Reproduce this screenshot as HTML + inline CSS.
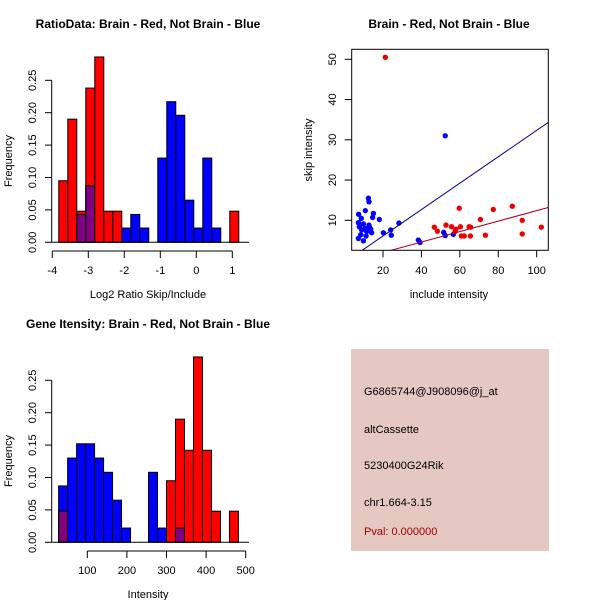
<!DOCTYPE html>
<html><head><meta charset="utf-8">
<style>
body{margin:0;background:#fff;}
svg{display:block;font-family:"Liberation Sans",sans-serif;}
</style></head>
<body>
<svg id="chart" width="600" height="600" viewBox="0 0 600 600"></svg>
<script>
// Ratio histogram data (breaks start -3.82, width 0.25)
const ratioBreakStart = -3.82;
const ratioBinWidth = 0.25;
const ratioRed = [0.095,0.19,0.048,0.238,0.286,0.048,0.048,0,0,0,0,0,0,0,0,0,0,0,0,0.048];
const ratioBlue = [0,0,0.043,0.087,0,0,0,0.022,0.043,0.022,0,0.13,0.217,0.196,0.065,0.022,0.13,0.022,0,0];
const ratioXTicks = [-4,-3,-2,-1,0,1];
const freqTicks = ["0.00","0.05","0.10","0.15","0.20","0.25"];
// Intensity histogram data
const intBreakStart = 27.6;
const intBinWidth = 22.7;
const intRed = [0.048,0,0,0,0,0,0,0,0,0,0,0,0.095,0.19,0.142,0.286,0.142,0.048,0,0.048];
const intBlue = [0.087,0.13,0.152,0.152,0.13,0.108,0.065,0.022,0,0,0.108,0.022,0,0.022,0,0,0,0,0,0];
const intXTicks = [100,200,300,400,500];
// Scatter data
const blueX = [12.4,12.7,10.8,7.3,8.7,15,14.6,18.1,7.2,9.8,12.7,13.6,7.7,8.9,11.5,14.1,8.4,11.2,7.2,9.8,12.9,10.6,20.2,24,24.3,28.3,38.4,39.3,51.6,52.4,56.6,52.4];
const blueY = [15.5,14.6,12.4,11.5,10.5,11.7,10.7,10.2,9.4,9.1,8.8,7.8,8.4,7.6,7.2,6.9,6.4,6.1,5.5,4.9,8.4,8.0,6.9,7.6,6.3,9.3,5.1,4.5,7.0,6.2,6.5,31.0];
const redX = [21.2,46.7,48.3,52.8,55.7,58,57.5,59.7,60.3,60.8,62.3,64.8,65.6,65.5,70.7,73.3,77.4,87.3,92.5,92.5,102.4];
const redY = [50.5,8.3,7.3,8.8,8.4,7.8,7.2,13.0,8.4,6.1,6.1,8.4,8.3,6.1,10.2,6.3,12.7,13.5,10,6.6,8.3];
const blueFit = [-0.45,0.328];
const redFit = [-0.6,0.130];
const scXTicks = [20,40,60,80,100];
const scYTicks = [10,20,30,40,50];

const NS="http://www.w3.org/2000/svg";
const svg=document.getElementById('chart');
function mk(tag,attrs,parent){const e=document.createElementNS(NS,tag);for(const k in attrs)e.setAttribute(k,attrs[k]);(parent||svg).appendChild(e);return e;}
function txt(s,x,y,attrs,parent){const t=mk('text',Object.assign({x:x,y:y,'font-size':11,'text-anchor':'middle'},attrs||{}),parent);t.textContent=s;return t;}

function histogram(oy,name,title,xlabel,breakStart,bw,red,blue,xTicks,xScale,axisMin,axisMax){
  const g=mk('g',{});
  
  
  const y0=242.3+oy, yPer=(242.3-80.3)/0.25;
  const ys=v=>y0-v*yPer;
  const t=txt(title,148,28+oy,{'font-weight':'bold','font-size':12},g);
  
  
  for(let i=0;i<red.length;i++){
    const x0=xScale(breakStart+i*bw), x1=xScale(breakStart+(i+1)*bw);
    const r=red[i], b=blue[i];
    if(r>0){const e=mk('rect',{x:x0,y:ys(r),width:x1-x0,height:y0-ys(r),fill:'#ff0000',stroke:'#000','stroke-width':1},g);
      
      }
    if(b>0){const e=mk('rect',{x:x0,y:ys(b),width:x1-x0,height:y0-ys(b),fill:'#0000ff',stroke:'#000','stroke-width':1},g);
      
      }
    const m=Math.min(r,b);
    if(m>0){const e=mk('rect',{x:x0,y:ys(m),width:x1-x0,height:y0-ys(m),fill:'#800080',stroke:'#000','stroke-width':1},g);
      
      }
  }
  // y axis
  mk('line',{x1:51.7,x2:51.7,y1:ys(0),y2:ys(0.25),stroke:'#000'},g);
  freqTicks.forEach(s=>{const v=parseFloat(s);mk('line',{x1:45,x2:51.7,y1:ys(v),y2:ys(v),stroke:'#000'},g);
    txt(s,36,ys(v),{transform:`rotate(-90 36 ${ys(v)})`},g);});
  const yl=txt('Frequency',12,161+oy,{transform:`rotate(-90 12 ${161+oy})`,'font-size':11},g);
  
  
  // x axis
  mk('line',{x1:xScale(axisMin),x2:xScale(axisMax),y1:251+oy,y2:251+oy,stroke:'#000'},g);
  xTicks.forEach(v=>{mk('line',{x1:xScale(v),x2:xScale(v),y1:251+oy,y2:258+oy,stroke:'#000'},g);
    txt(String(v).replace('-','-'),xScale(v),274+oy,{},g);});
  const xl=txt(xlabel,148,298+oy,{},g);
  
  
  // baseline
  mk('line',{x1:51.7,x2:249,y1:y0,y2:y0,stroke:'#000'},g);
}
const rx=v=>52.3+(v+4)*36;
histogram(0,'ratio-histogram','RatioData: Brain - Red, Not Brain - Blue','Log2 Ratio Skip/Include',ratioBreakStart,ratioBinWidth,ratioRed,ratioBlue,ratioXTicks,rx,-4,1);
const ix=v=>87.3+(v-100)*(158.4/400);
histogram(300,'intensity-histogram','Gene Itensity: Brain - Red, Not Brain - Blue','Intensity',intBreakStart,intBinWidth,intRed,intBlue,intXTicks,ix,100,500);

// Scatter
(function(){
  const g=mk('g',{});
  
  
  const L=351.7,R=548.3,T=49.3,B=250.3;
  const sx=v=>383+(v-20)*1.921;
  const sy=v=>220.3-(v-10)*4.025;
  const t=txt('Brain - Red, Not Brain - Blue',449,28,{'font-weight':'bold','font-size':12},g);
  
  
  mk('clipPath',{id:'clip'},g).appendChild(mk('rect',{x:L,y:T,width:R-L,height:B-T},g));
  const pg=mk('g',{'clip-path':'url(#clip)'},g);
  blueX.forEach((x,i)=>{const c=mk('circle',{cx:sx(x),cy:sy(blueY[i]),r:2.7,fill:'#0000ff'},pg);
    
    });
  redX.forEach((x,i)=>{const c=mk('circle',{cx:sx(x),cy:sy(redY[i]),r:2.7,fill:'#ee0000'},pg);
    
    });
  const xa=0,xb=110;
  const bl=mk('line',{x1:sx(xa),y1:sy(blueFit[0]+blueFit[1]*xa),x2:sx(xb),y2:sy(blueFit[0]+blueFit[1]*xb),stroke:'#00008b','stroke-width':1},pg);
  
  
  const rl=mk('line',{x1:sx(xa),y1:sy(redFit[0]+redFit[1]*xa),x2:sx(xb),y2:sy(redFit[0]+redFit[1]*xb),stroke:'#b0001a','stroke-width':1},pg);
  
  
  mk('rect',{x:L,y:T,width:R-L,height:B-T,fill:'none',stroke:'#000'},g);
  scXTicks.forEach(v=>{mk('line',{x1:sx(v),x2:sx(v),y1:B,y2:B+7,stroke:'#000'},g);txt(String(v),sx(v),274,{},g);});
  scYTicks.forEach(v=>{mk('line',{x1:L-7,x2:L,y1:sy(v),y2:sy(v),stroke:'#000'},g);txt(String(v),336,sy(v),{transform:`rotate(-90 336 ${sy(v)})`},g);});
  const xl=txt('include intensity',449,298,{},g);
  
  
  const yl=txt('skip intensity',312,150,{transform:'rotate(-90 312 150)'},g);
  
  
})();
</script>
<svg width="0" height="0"></svg>
<div style="position:absolute;left:351px;top:349px;width:198px;height:202px;background:#e6c8c2;font-family:'Liberation Sans',sans-serif;font-size:11px;color:#000;">
  <div style="position:absolute;left:13px;top:37px;">G6865744@J908096@j_at</div>
  <div style="position:absolute;left:13px;top:75px;">altCassette</div>
  <div style="position:absolute;left:13px;top:111px;">5230400G24Rik</div>
  <div style="position:absolute;left:13px;top:148px;">chr1.664-3.15</div>
  <div style="position:absolute;left:13px;top:177px;color:#a00000;">Pval: 0.000000</div>
</div>
</body></html>
